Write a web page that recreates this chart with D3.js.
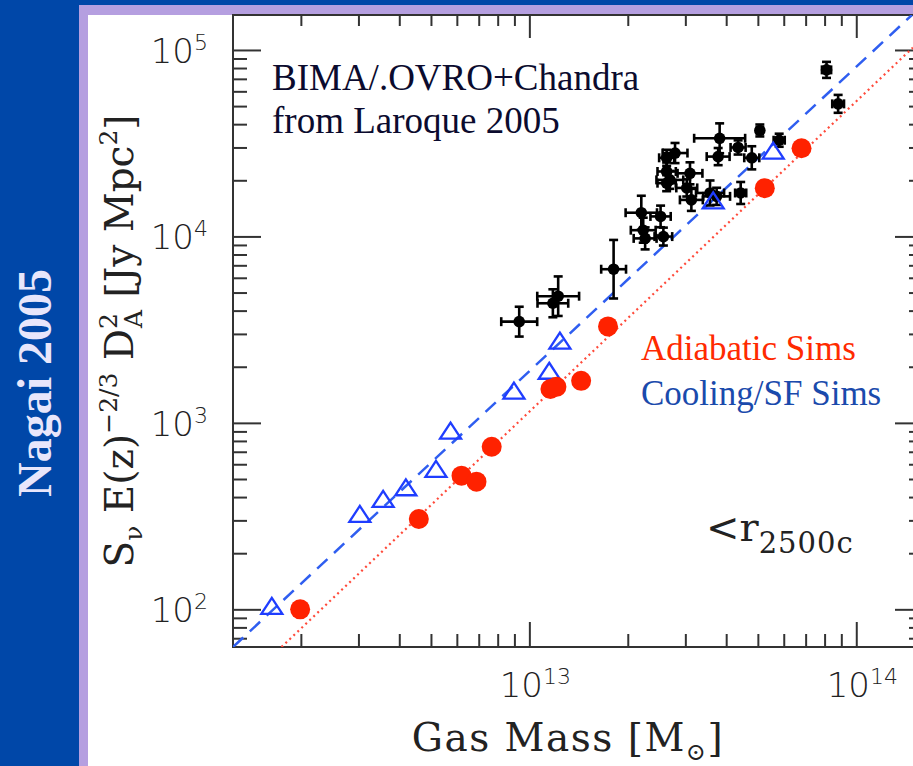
<!DOCTYPE html>
<html>
<head>
<meta charset="utf-8">
<script src="https://cdn.jsdelivr.net/npm/d3@7"></script>
<style>
  body { margin: 0; background: #fff; }
  svg { display: block; }
</style>
</head>
<body>
<svg id="chart" width="913" height="766"></svg>
<script>
// Cooling/SF simulated clusters (blue triangles)
var coolMass = [1.63e12, 3.03e12, 3.57e12, 4.19e12, 5.18e12, 5.74e12, 8.97e12, 1.15e13, 1.24e13, 3.65e13, 5.57e13];
var coolFlux = [103, 321, 386, 446, 559, 897, 1470, 1880, 2730, 15400, 28500];

// Adiabatic simulated clusters (red dots)
var adiMass = [1.99e12, 4.59e12, 6.20e12, 6.89e12, 7.67e12, 1.16e13, 1.21e13, 1.44e13, 1.74e13, 5.25e13, 6.80e13];
var adiFlux = [100, 305, 521, 484, 745, 1520, 1560, 1680, 3290, 18150, 29700];

// BIMA/OVRO + Chandra clusters, errors in dex
var obsMass = [9.31e12, 1.225e13, 1.18e13, 1.81e13, 2.20e13, 2.52e13, 2.23e13, 2.26e13, 2.57e13, 3.82e13,
               3.78e13, 4.35e13, 4.79e13, 5.07e13, 5.81e13, 2.79e13, 2.63e13, 2.63e13, 2.69e13, 3.10e13,
               3.03e13, 3.13e13, 3.57e13, 3.74e13, 4.43e13, 8.11e13, 8.80e13, 2.63e13];
var obsFlux = [3490, 4780, 4380, 6670, 13400, 12800, 10800, 9760, 9980, 33600,
               26800, 30000, 26400, 37000, 32800, 28000, 26400, 22300, 20100, 21800,
               18200, 15700, 17100, 16400, 17100, 78200, 51400, 19300];
var obsMassErr = [0.055, 0.064, 0.047, 0.038, 0.048, 0.031, 0.038, 0.035, 0.027, 0.078,
                  0.035, 0.023, 0.023, 0.009, 0.017, 0.038, 0.023, 0.028, 0.041, 0.038,
                  0.032, 0.035, 0.043, 0.041, 0.017, 0.014, 0.018, 0.028];
var obsFluxErr = [0.080, 0.106, 0.075, 0.157, 0.091, 0.058, 0.067, 0.059, 0.048, 0.080,
                  0.046, 0.038, 0.062, 0.032, 0.035, 0.054, 0.043, 0.048, 0.048, 0.059,
                  0.046, 0.059, 0.067, 0.046, 0.059, 0.043, 0.048, 0.043];

// fit lines (end points)
var coolFit = [[1.24e12, 62.8], [1.48e14, 1.54e5]];
var adiFit = [[1.745e12, 62.8], [1.49e14, 1.03e5]];

// axis ticks
var xMajor = [1e13, 1e14];
var xMajorLabels = ["13", "14"];
var yMajor = [1e2, 1e3, 1e4, 1e5];
var yMajorLabels = ["2", "3", "4", "5"];
var xDecades = [12, 13, 14];
var yDecades = [1, 2, 3, 4, 5];

var svg = d3.select("#chart");
var W = 913, H = 766;

// background panel
svg.append("rect").attr("width", W).attr("height", H).attr("fill", "#0047a8");
svg.append("rect").attr("x", 79).attr("y", 5).attr("width", W - 79).attr("height", H - 5).attr("fill", "#b59fe0");
svg.append("rect").attr("x", 88).attr("y", 15).attr("width", W - 88).attr("height", H - 15).attr("fill", "#ffffff");

svg.append("text")
    .attr("transform", "translate(51,383) rotate(-90)")
    .attr("text-anchor", "middle")
    .style("font-family", "'Liberation Serif', 'Times New Roman', serif")
    .style("font-weight", "bold")
    .style("font-size", "48px")
    .attr("fill", "#e8e6fb")
    .text("Nagai 2005");

var pLeft = 233, pRight = 923, pTop = 15, pBottom = 647;

var x = d3.scaleLog().domain([1.24e12, 1.6e14]).range([pLeft, pRight]);
var y = d3.scaleLog().domain([62.8, 1.54e5]).range([pBottom, pTop]);

function minors(decades, scale) {
  var out = [];
  decades.forEach(function(d) {
    for (var m = 2; m <= 9; m++) {
      var v = m * Math.pow(10, d);
      var dom = scale.domain();
      if (v > dom[0] && v < dom[1]) out.push(v);
    }
  });
  return out;
}
var xMinor = minors(xDecades, x);
var yMinor = minors(yDecades, y);

var tickColor = "#333";
function styleAxis(g) {
  g.select(".domain").remove();
  g.selectAll(".tick text").remove();
  g.selectAll(".tick line").attr("stroke", tickColor).attr("stroke-width", 2);
}

// ticks (inward)
svg.append("g").attr("transform", "translate(0," + pBottom + ")")
  .call(d3.axisBottom(x).tickValues(xMajor).tickSize(-25)).call(styleAxis);
svg.append("g").attr("transform", "translate(0," + pBottom + ")")
  .call(d3.axisBottom(x).tickValues(xMinor).tickSize(-13)).call(styleAxis);
svg.append("g").attr("transform", "translate(0," + pTop + ")")
  .call(d3.axisTop(x).tickValues(xMajor).tickSize(-23)).call(styleAxis);
svg.append("g").attr("transform", "translate(0," + pTop + ")")
  .call(d3.axisTop(x).tickValues(xMinor).tickSize(-11)).call(styleAxis);
svg.append("g").attr("transform", "translate(" + pLeft + ",0)")
  .call(d3.axisLeft(y).tickValues(yMajor).tickSize(-28)).call(styleAxis);
svg.append("g").attr("transform", "translate(" + pLeft + ",0)")
  .call(d3.axisLeft(y).tickValues(yMinor).tickSize(-14)).call(styleAxis);
svg.append("g").attr("transform", "translate(" + pRight + ",0)")
  .call(d3.axisRight(y).tickValues(yMajor).tickSize(-28)).call(styleAxis);
svg.append("g").attr("transform", "translate(" + pRight + ",0)")
  .call(d3.axisRight(y).tickValues(yMinor).tickSize(-14)).call(styleAxis);

// frame
svg.append("rect")
  .attr("x", pLeft).attr("y", pTop).attr("width", pRight - pLeft).attr("height", pBottom - pTop)
  .attr("fill", "none").attr("stroke", tickColor).attr("stroke-width", 2);

// tick labels
var numFont = "'DejaVu Sans', sans-serif";
yMajor.forEach(function(v, i) {
  var t = svg.append("text")
    .attr("x", 208).attr("y", y(v) + 13)
    .attr("text-anchor", "end")
    .style("font-family", numFont).style("font-size", "34px").style("font-weight", 200)
    .attr("fill", "#222");
  t.append("tspan").text("10");
  t.append("tspan").attr("dy", -13).style("font-size", "22px").text(yMajorLabels[i]);
});
xMajor.forEach(function(v, i) {
  var t = svg.append("text")
    .attr("x", x(v) + 6).attr("y", 697)
    .attr("text-anchor", "middle")
    .style("font-family", numFont).style("font-size", "34px").style("font-weight", 200)
    .attr("fill", "#222");
  t.append("tspan").text("10");
  t.append("tspan").attr("dy", -13).style("font-size", "22px").text(xMajorLabels[i]);
});

// axis titles
var labFont = "'DejaVu Serif', serif";
var xt = svg.append("text")
  .attr("x", 568).attr("y", 751)
  .attr("text-anchor", "middle")
  .style("font-family", labFont).style("font-size", "39px").style("font-weight", 300)
  .style("letter-spacing", "1.5px")
  .attr("fill", "#222");
xt.append("tspan").text("Gas Mass [M");
xt.append("tspan").attr("dy", 9).style("font-size", "24px").text("\u2299");
xt.append("tspan").attr("dy", -9).text("]");

var yt = svg.append("text")
  .attr("transform", "translate(133,341) rotate(-90)")
  .attr("text-anchor", "middle")
  .style("font-family", labFont).style("font-size", "39px").style("font-weight", 300)
  .attr("fill", "#222");
yt.append("tspan").text("S");
yt.append("tspan").attr("dy", 9).style("font-size", "25px").text("\u03bd");
yt.append("tspan").attr("dy", -9).text(" E(z)");
yt.append("tspan").attr("dy", -16).style("font-size", "25px").text("\u22122/3");
yt.append("tspan").attr("dy", 16).text(" D");
yt.append("tspan").attr("dy", -16).style("font-size", "25px").text("2");
yt.append("tspan").attr("dx", -15).attr("dy", 25).style("font-size", "25px").text("A");
yt.append("tspan").attr("dy", -9).text(" [Jy Mpc");
yt.append("tspan").attr("dy", -16).style("font-size", "25px").text("2");
yt.append("tspan").attr("dy", 16).text("]");

// plot content clipped to frame
svg.append("clipPath").attr("id", "clip")
  .append("rect").attr("x", pLeft).attr("y", pTop).attr("width", pRight - pLeft).attr("height", pBottom - pTop);
var plot = svg.append("g").attr("clip-path", "url(#clip)");

var line = d3.line().x(function(d) { return x(d[0]); }).y(function(d) { return y(d[1]); });

plot.append("path").datum(coolFit).attr("d", line)
  .attr("fill", "none").attr("stroke", "#2f5ef0").attr("stroke-width", 2.5)
  .attr("stroke-dasharray", "14,9");
plot.append("path").datum(adiFit).attr("d", line)
  .attr("fill", "none").attr("stroke", "#ff4a3a").attr("stroke-width", 2.2)
  .attr("stroke-dasharray", "2,3.5");

// observed points with error bars
var obs = obsMass.map(function(m, i) {
  return {m: m, s: obsFlux[i], em: obsMassErr[i], es: obsFluxErr[i]};
});
var cap = 4.5;
var og = plot.append("g").attr("stroke", "#000").attr("stroke-width", 2.6);
obs.forEach(function(d) {
  var cx = x(d.m), cy = y(d.s);
  var x0 = x(d.m / Math.pow(10, d.em)), x1 = x(d.m * Math.pow(10, d.em));
  var y0 = y(d.s / Math.pow(10, d.es)), y1 = y(d.s * Math.pow(10, d.es));
  og.append("line").attr("x1", x0).attr("x2", x1).attr("y1", cy).attr("y2", cy);
  og.append("line").attr("x1", x0).attr("x2", x0).attr("y1", cy - cap).attr("y2", cy + cap);
  og.append("line").attr("x1", x1).attr("x2", x1).attr("y1", cy - cap).attr("y2", cy + cap);
  og.append("line").attr("x1", cx).attr("x2", cx).attr("y1", y0).attr("y2", y1);
  og.append("line").attr("x1", cx - cap).attr("x2", cx + cap).attr("y1", y0).attr("y2", y0);
  og.append("line").attr("x1", cx - cap).attr("x2", cx + cap).attr("y1", y1).attr("y2", y1);
});
plot.selectAll(".obs").data(obs).enter().append("circle")
  .attr("class", "obs")
  .attr("cx", function(d) { return x(d.m); })
  .attr("cy", function(d) { return y(d.s); })
  .attr("r", 5.8).attr("fill", "#000");

// cooling triangles
plot.selectAll(".cool").data(coolMass).enter().append("path")
  .attr("class", "cool")
  .attr("transform", function(d, i) { return "translate(" + x(d) + "," + y(coolFlux[i]) + ")"; })
  .attr("d", "M0,-9L10.5,7L-10.5,7Z")
  .attr("fill", "none").attr("stroke", "#1f3dff").attr("stroke-width", 2.3)
  .attr("stroke-linejoin", "miter");

// adiabatic dots
plot.selectAll(".adi").data(adiMass).enter().append("circle")
  .attr("class", "adi")
  .attr("cx", function(d) { return x(d); })
  .attr("cy", function(d, i) { return y(adiFlux[i]); })
  .attr("r", 10).attr("fill", "#ff2200");

// annotations
var serif = "'Liberation Serif', 'Times New Roman', serif";
svg.append("text").attr("x", 272).attr("y", 90)
  .style("font-family", serif).style("font-size", "37px").attr("fill", "#0b0b2e")
  .text("BIMA/.OVRO+Chandra");
svg.append("text").attr("x", 272).attr("y", 133)
  .style("font-family", serif).style("font-size", "37px").attr("fill", "#0b0b2e")
  .text("from Laroque 2005");
svg.append("text").attr("x", 641).attr("y", 360)
  .style("font-family", serif).style("font-size", "35px").attr("fill", "#ff2a00")
  .text("Adiabatic Sims");
svg.append("text").attr("x", 641).attr("y", 405)
  .style("font-family", serif).style("font-size", "35px").attr("fill", "#1a4aac")
  .text("Cooling/SF Sims");

var rt = svg.append("text").attr("x", 706).attr("y", 541)
  .style("font-family", labFont).style("font-size", "40px").style("font-weight", 300)
  .attr("fill", "#222");
rt.append("tspan").text("<r");
rt.append("tspan").attr("dy", 12).style("font-size", "29px").style("letter-spacing", "1px").text("2500c");
</script>
</body>
</html>
